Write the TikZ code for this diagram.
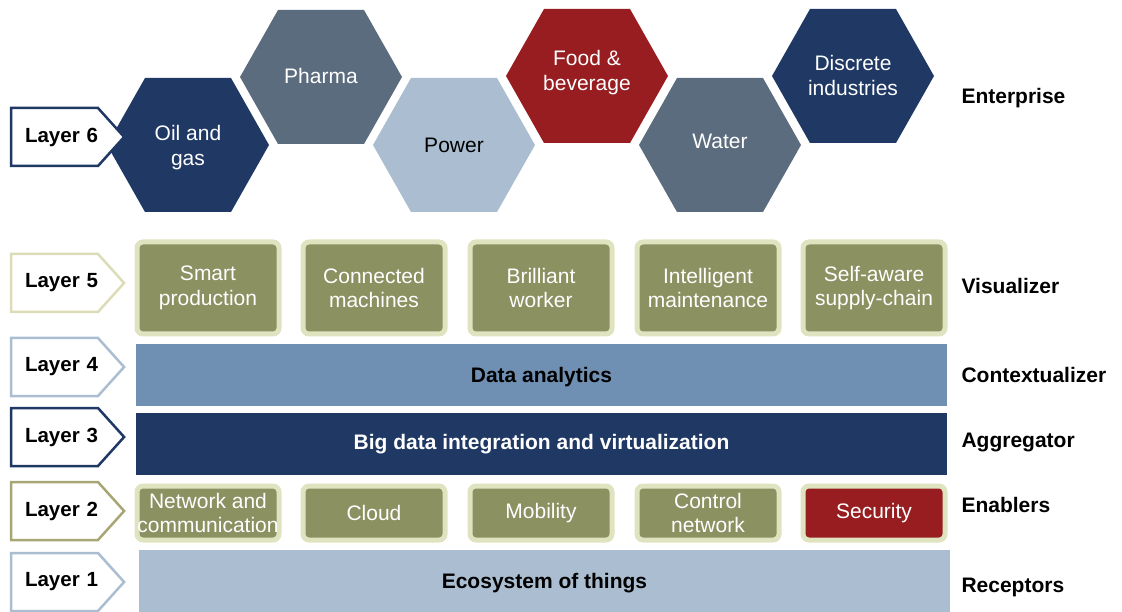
\documentclass[tikz,border=0pt]{standalone}
\usepackage{fontspec}
\setmainfont{Liberation Sans}
\usetikzlibrary{shapes.symbols}

\definecolor{navy}{HTML}{1F3864}
\definecolor{slate}{HTML}{5B6C7E}
\definecolor{paleblue}{HTML}{ABBED1}
\definecolor{midblue}{HTML}{6F8FB3}
\definecolor{winered}{HTML}{971D21}
\definecolor{olive}{HTML}{8C9162}
\definecolor{paleolive}{HTML}{E0E3BF}
\definecolor{tagolive}{HTML}{A9A676}
\definecolor{tagpale}{HTML}{DCDDB8}

\begin{document}
\begin{tikzpicture}[%
    x=1pt, y=-1pt,
    hextext/.style={align=center, font=\fontsize{21}{25}\selectfont},
    tag/.style={signal, signal to=east, signal pointer angle=96,
      draw=#1, fill=white, line width=2.5pt, minimum width=113pt,
      minimum height=58pt, inner sep=0pt, text width=87pt, align=right,
      font=\fontsize{20.5}{23}\selectfont\bfseries},
    tile/.style={rounded corners=6pt, draw=paleolive, fill=olive,
      line width=5pt, text=white, align=center, minimum width=142pt,
      inner sep=0pt, font=\fontsize{21}{24.5}\selectfont},
    bar/.style={minimum width=811pt, minimum height=62pt, inner sep=0pt,
      text height=15pt, text depth=0pt,
      font=\fontsize{21}{24}\selectfont\bfseries},
    side/.style={anchor=west, text height=15pt, text depth=0pt,
      font=\fontsize{21}{24}\selectfont\bfseries},
  ]
    \useasboundingbox (0,0) rectangle (1122,612);

    % layer 6: hexagons
    \foreach \n/\x/\y/\dy/\c/\tc/\t in {oil/188/145/3/navy/white/{Oil and\\gas},
        pharma/321/77/-1/slate/white/{Pharma},
        power/454/145/0/paleblue/black/{Power},
        food/587/76/-3/winered/white/{Food \&\\beverage},
        water/720/145/-4/slate/white/{Water},
        discrete/853/76/-1/navy/white/{Discrete\\industries}}
    {
      \fill[\c] (\x,\y) ++(-81,0) -- ++(38,-67) -- ++(86,0) -- ++(38,67)
        -- ++(-38,67) -- ++(-86,0) -- cycle;
      \node[hextext, text=\tc] (\n) at (\x,\y+\dy) {\t};
    }

    % layer 5
    \foreach \n/\x/\t in {smart/208/{Smart\\production},
        machines/374/{Connected\\machines},
        worker/541/{Brilliant\\worker},
        maint/708/{Intelligent\\maintenance},
        supply/874/{Self-aware\\supply-chain}}
      \node[tile, minimum height=92pt] (\n) at (\x,288) {\t};

    % layers 4 and 3
    \node[bar, fill=midblue] (analytics) at (541.5,375) {Data analytics};
    \node[bar, fill=navy, text=white] (bigdata) at (541.5,444)
      {\raisebox{2pt}{Big data integration and virtualization}};

    % layer 2
    \foreach \n/\x/\c/\t in {network/208/olive/{Network and\\communication},
        cloud/374/olive/{Cloud},
        mobility/541/olive/{Mobility},
        control/708/olive/{Control\\network},
        security/874/winered/{Security}}
      \node[tile, fill=\c, minimum height=54pt] (\n) at (\x,513) {\t};

    % layer 1
    \node[bar, fill=paleblue] (things) at (544.5,581) {Ecosystem of things};

    % layer tags
    \node[tag=navy]     (l6) at (54.5,137) {Layer 6};
    \node[tag=tagpale]  (l5) at (54.5,283) {Layer 5};
    \node[tag=paleblue] (l4) at (54.5,367) {Layer 4};
    \node[tag=navy]     (l3) at (54.5,437) {Layer 3};
    \node[tag=tagolive] (l2) at (54.5,511) {Layer 2};
    \node[tag=paleblue] (l1) at (54.5,582) {Layer 1};

    % roles
    \node[side] (enterprise) at (958,96)  {Enterprise};
    \node[side] (visualizer) at (958,286) {Visualizer};
    \node[side] (context)    at (958,375) {Contextualizer};
    \node[side] (aggregator) at (958,440) {Aggregator};
    \node[side] (enablers)   at (958,505) {Enablers};
    \node[side] (receptors)  at (958,585) {Receptors};
  \end{tikzpicture}
\end{document}
